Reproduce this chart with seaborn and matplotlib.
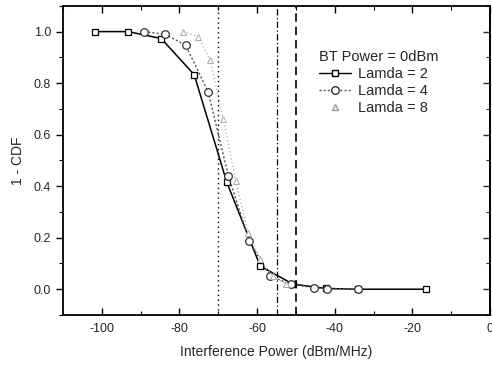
import matplotlib
matplotlib.use("Agg")
import matplotlib.pyplot as plt
import seaborn as sns
import pandas as pd
from matplotlib.lines import Line2D
from matplotlib.ticker import MultipleLocator

# Data
l2_x = [-101.7, -93.2, -84.7, -76.2, -67.8, -59.2, -50.8, -42.3, -33.9, -16.6]
l2_y = [1.0, 1.0, 0.973, 0.833, 0.415, 0.09, 0.02, 0.003, 0.0, 0.0]
l4_x = [-89.1, -83.7, -78.4, -72.6, -67.4, -62.0, -56.6, -51.2, -45.4, -41.9, -33.9]
l4_y = [1.0, 0.99, 0.947, 0.766, 0.44, 0.187, 0.05, 0.02, 0.006, 0.002, 0.0]
l8_x = [-79.0, -75.2, -72.1, -68.7, -65.5, -62.3, -59.2, -56.0, -52.5]
l8_y = [1.0, 0.98, 0.89, 0.66, 0.42, 0.22, 0.117, 0.05, 0.02]
vlines = [-70, -55, -50]
legend_title = "BT Power = 0dBm"
labels = ["Lamda = 2", "Lamda = 4", "Lamda = 8"]

sns.set_theme(style="ticks")
plt.rcParams['font.family'] = ['Liberation Sans', 'DejaVu Sans']

fig = plt.figure(figsize=(4.92, 3.65), dpi=100)
ax = fig.add_axes([0.128, 0.137, 0.868, 0.847])

d2 = pd.DataFrame({"x": l2_x, "y": l2_y})
d4 = pd.DataFrame({"x": l4_x, "y": l4_y})
d8 = pd.DataFrame({"x": l8_x, "y": l8_y})

sns.lineplot(data=d2, x="x", y="y", ax=ax, sort=False, color="black", lw=1.1,
             marker="s", markersize=5, markerfacecolor="white", markeredgecolor="black",
             markeredgewidth=0.9)
sns.lineplot(data=d4, x="x", y="y", ax=ax, sort=False, color="#555555", lw=1.0,
             linestyle=(0, (1.5, 1.5)), marker="o", markersize=5.5,
             markerfacecolor="white", markeredgecolor="#333333", markeredgewidth=0.9)
sns.lineplot(data=d8, x="x", y="y", ax=ax, sort=False, color="#aaaaaa", lw=0.9,
             linestyle=(0, (1, 2)), marker="^", markersize=4.5,
             markerfacecolor="white", markeredgecolor="#aaaaaa", markeredgewidth=0.7)

ax.axvline(vlines[0], color="black", lw=1.0, linestyle=(0, (1, 2.5)))
ax.axvline(vlines[1], color="black", lw=0.9, linestyle=(0, (5, 2, 1, 2)))
ax.axvline(vlines[2], color="black", lw=1.2, linestyle=(0, (5, 3)))

ax.set_xlim(-110, 0)
ax.set_ylim(-0.1, 1.1)
ax.xaxis.set_major_locator(MultipleLocator(20))
ax.xaxis.set_minor_locator(MultipleLocator(10))
ax.yaxis.set_major_locator(MultipleLocator(0.2))
ax.yaxis.set_minor_locator(MultipleLocator(0.1))
ax.set_yticks([0.0, 0.2, 0.4, 0.6, 0.8, 1.0])
ax.set_yticklabels(["0.0", "0.2", "0.4", "0.6", "0.8", "1.0"])
ax.set_xticks([-100, -80, -60, -40, -20, 0])
ax.set_xticklabels(["-100", "-80", "-60", "-40", "-20", "0"])

ax.tick_params(axis="x", which="both", direction="in", top=True, bottom=True, labelsize=9, color="black", pad=6)
ax.tick_params(axis="y", which="both", direction="out", left=True, right=False, labelsize=9, color="black")
ax.tick_params(which="major", length=5, width=1.0)
ax.tick_params(which="minor", length=3, width=0.8)
sec = ax.secondary_yaxis("right")
sec.yaxis.set_major_locator(MultipleLocator(0.2))
sec.yaxis.set_minor_locator(MultipleLocator(0.1))
sec.tick_params(which="both", direction="in", labelright=False)
sec.tick_params(which="major", length=5, width=1.0)
sec.tick_params(which="minor", length=3, width=0.8)

for s in ax.spines.values():
    s.set_color("black")
    s.set_linewidth(1.3)
sec.spines["right"].set_linewidth(1.3)

ax.set_xlabel("Interference Power (dBm/MHz)", fontsize=10, labelpad=7)
ax.set_ylabel("1 - CDF", fontsize=10, labelpad=6)

handles = [
    Line2D([], [], color="black", lw=1.0, marker="s", markersize=5, markerfacecolor="white", markeredgecolor="black"),
    Line2D([], [], color="#555555", lw=1.0, linestyle=(0, (1.5, 1.5)), marker="o", markersize=5.5, markerfacecolor="white", markeredgecolor="#333333"),
    Line2D([], [], color="white", lw=0, marker="^", markersize=4.5, markerfacecolor="white", markeredgecolor="#999999"),
]
leg = ax.legend(handles, labels, title=legend_title, loc="upper left", bbox_to_anchor=(0.585, 0.875),
                frameon=False, fontsize=10.5, title_fontsize=10.5, handlelength=2.2,
                handletextpad=0.5, labelspacing=0.2, borderaxespad=0)
leg._legend_box.align = "left"

fig.savefig("out.png", dpi=100)
